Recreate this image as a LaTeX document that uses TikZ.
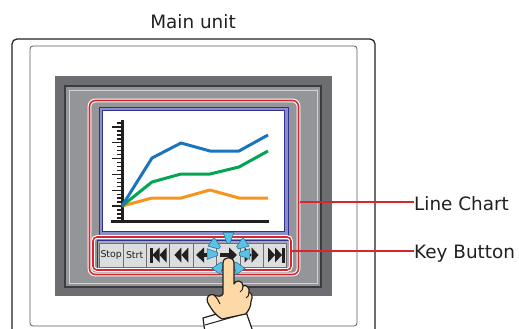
\documentclass[tikz,border=0pt]{standalone}
\usepackage{fontspec}
\usetikzlibrary{calc}
\setmainfont{DejaVu Sans}
\definecolor{ink}{HTML}{231F20}
\definecolor{bezel}{HTML}{6D6E71}
\definecolor{panel}{HTML}{939598}
\definecolor{rimdark}{HTML}{3C3C3E}
\definecolor{rimlight}{HTML}{D1D3D4}
\definecolor{callout}{HTML}{D7262E}
\definecolor{navy}{HTML}{2E3192}
\definecolor{lavender}{HTML}{8D8FC4}
\definecolor{keyface}{HTML}{DCDDDE}
\definecolor{keyedge}{HTML}{6D6E71}
\definecolor{serblue}{HTML}{1B75BC}
\definecolor{sergreen}{HTML}{00A651}
\definecolor{serorange}{HTML}{F7941D}
\definecolor{skin}{HTML}{FDD9A8}
\definecolor{spark}{HTML}{5BC2E7}
\definecolor{sparkedge}{HTML}{1C6E8C}
\begin{document}
\begin{tikzpicture}[x=1pt,y=-1pt,
  label/.style={font=\fontsize{18.4}{22}\selectfont,text=ink,inner sep=0pt},
  keytext/.style={font=\fontsize{9.4}{11}\selectfont,text=ink,inner sep=0pt},
  redframe/.style={preaction={draw=white,line width=3.8pt,rounded corners=#1},
                   draw=callout,line width=1.6pt,rounded corners=#1},
  leader/.style={draw=callout,line width=1.4pt},
  series/.style={line width=3pt,line join=round},
  keycap/.style={fill=keyface,draw=keyedge,line width=0.8pt},
  glyph/.style={fill=ink},
  ray/.style={fill=spark,draw=sparkedge,line width=0.5pt,line join=round},
  handline/.style={draw=ink,line width=1.2pt,line join=round}]
\useasboundingbox (0,0) rectangle (519,329);
\clip (0,0) rectangle (519,329);

% housing of the main unit
\draw[ink,line width=1.2pt,rounded corners=5pt] (12,39) rectangle (375,345);
\draw[bezel!80!black,line width=0.8pt,rounded corners=3pt] (30,46) rectangle (357,326);

% display bezel
\fill[bezel] (55,76) rectangle (332,296);
\filldraw[fill=panel,draw=rimdark,line width=2pt] (65,86) rectangle (321,287);
\draw[rimlight,line width=0.8pt] (69,90) rectangle (317,283);

% screen with the chart
\filldraw[fill=lavender,draw=navy,line width=1pt] (99,107) rectangle (288,235);
\filldraw[fill=white,draw=navy,line width=0.8pt] (102.5,110.5) rectangle (284.5,231.5);

% axes and ticks
\foreach \j in {-21,...,3}{
  \pgfmathsetmacro\tl{ifthenelse(mod(\j,4)==0,112,117)}
  \draw[ink,line width=1.3pt] (\tl,206+3.95*\j) -- (122,206+3.95*\j);
}
\draw[ink,line width=3pt] (122.5,120) -- (122.5,221) ;
\draw[ink,line width=3pt] (111,221) -- (269,221);

% data series
\draw[series,serorange] (122,206) -- (152,198) -- (181,198) -- (210,190) -- (239,198) -- (268,198);
\draw[series,sergreen]  (122,206) -- (152,182) -- (181,174) -- (210,174) -- (239,167) -- (268,151);
\draw[series,serblue]   (122,206) -- (152,158) -- (181,143) -- (210,151) -- (239,151) -- (268,135);

% key bar
\filldraw[fill=panel!80!white,draw=navy,line width=1pt] (97,240.5) rectangle (289.5,268.5);
\foreach \i in {0,...,7}{
  \draw[keycap] (99.5+23.4*\i,243) rectangle (99.5+23.4*\i+23.4,267);
}
\node[keytext] (kstop) at (111.2,255) {Stop};
\node[keytext] (kstrt) at (134.6,255) {Strt};
% |<< first
\fill[glyph] (150,247.5) rectangle (152.5,262.5);
\fill[glyph] (152.5,255) -- (159.5,247.5) -- (159.5,262.5) -- cycle;
\fill[glyph] (159.5,255) -- (166.5,247.5) -- (166.5,262.5) -- cycle;
% << back
\fill[glyph] (174.4,255) -- (181.4,247.5) -- (181.4,262.5) -- cycle;
\fill[glyph] (181.4,255) -- (188.4,247.5) -- (188.4,262.5) -- cycle;
% <- left
\fill[glyph] (196,255) -- (204,247.5) -- (204,262.5) -- cycle;
\fill[glyph] (203.5,253) rectangle (212.5,257);
% -> right
\fill[glyph] (220,253) rectangle (229,257);
\fill[glyph] (237,255) -- (229,247.5) -- (229,262.5) -- cycle;
% >> forward
\fill[glyph] (258.6,255) -- (251.6,247.5) -- (251.6,262.5) -- cycle;
\fill[glyph] (251.6,255) -- (244.6,247.5) -- (244.6,262.5) -- cycle;
% >>| last
\fill[glyph] (275,255) -- (268,247.5) -- (268,262.5) -- cycle;
\fill[glyph] (282,255) -- (275,247.5) -- (275,262.5) -- cycle;
\fill[glyph] (282,247.5) rectangle (284.5,262.5);

% callout frames
\draw[redframe=6pt] (89.5,100.5) rectangle (298.5,274.5);
\draw[redframe=4pt] (93,237) rectangle (291,270);

% touch sparks (angles measured in the flipped y system)
\coordinate (touch) at (228.5,254);
\foreach \a in {270,325,215,0,180,125,55}{
  \draw[ray] ($(touch)+(\a+8:11)$) -- ($(touch)+(\a+14:22)$) -- ($(touch)+(\a-14:22)$) -- ($(touch)+(\a-8:11)$) -- cycle;
}

% sleeve cuff
\filldraw[fill=white,draw=ink,line width=1.2pt,line join=round]
  (203,318) -- (244,306) -- (252,329) -- (250,340) -- (206,340) -- cycle;
\draw[ink,line width=1pt] (205,325) -- (247,313);

% pointing hand
\filldraw[fill=skin,handline]
  (223,294) -- (223,263)
  .. controls (223,256) and (234,256) .. (234,263)
  -- (234,284)
  .. controls (235.5,279.5) and (243,280) .. (243,286)
  .. controls (246,284) and (250,287.5) .. (249,292.5)
  .. controls (252,292.5) and (253,297.5) .. (251,301.5)
  .. controls (251,306) and (249,310.5) .. (245.5,314)
  -- (222,319)
  .. controls (215,315) and (210.5,308) .. (207.5,302)
  .. controls (205.5,297) and (210,293) .. (214,295)
  .. controls (218,296.5) and (221,297) .. (223,294);
\draw[handline,line width=1pt] (243,286) .. controls (243,289) and (242,291) .. (240,292);
\draw[handline,line width=1pt] (249,292.5) .. controls (249,295) and (248,297) .. (246,298);
\draw[handline,line width=1pt] (214,295) .. controls (217,298) and (219,301) .. (220,304);

% labels and leaders
\node[label,anchor=base] (title) at (193,29) {Main unit};
\node[label,anchor=base west] (lc) at (414,210) {Line Chart};
\node[label,anchor=base west] (kb) at (414,258) {Key Button};
\coordinate (chartR) at (299.5,202);
\coordinate (keysR) at (292,251);
\draw[leader] (chartR) -- (chartR -| lc.west);
\draw[leader] (keysR) -- (keysR -| kb.west);
\end{tikzpicture}
\end{document}
